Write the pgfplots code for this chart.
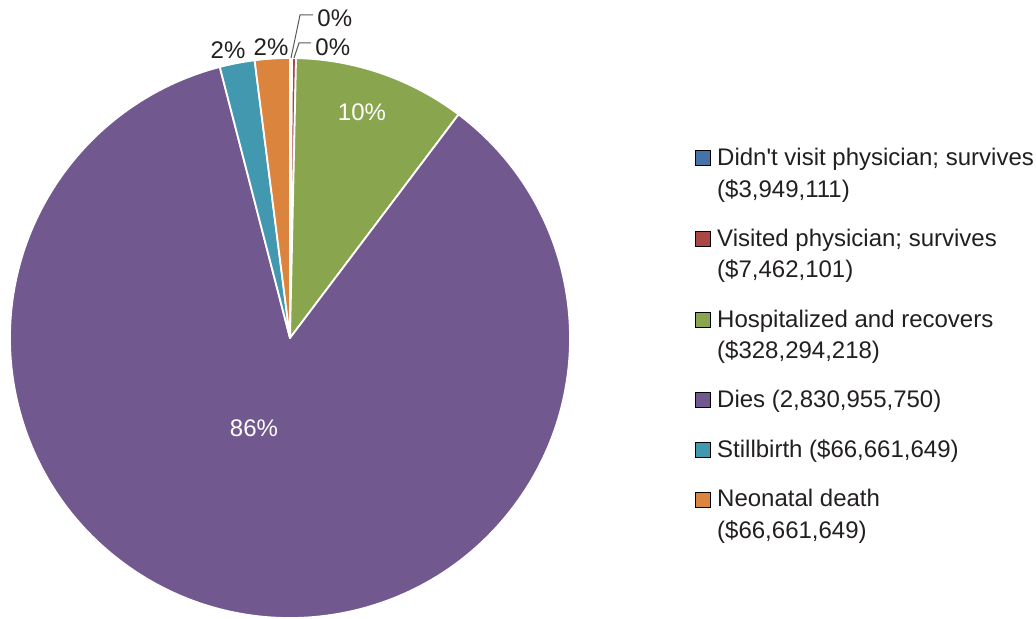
\documentclass[border=0pt]{standalone}
\usepackage{fontspec}
\setmainfont{Liberation Sans}
\usepackage{pgfplots}
\usepackage{pgfplotstable}
\pgfplotsset{compat=1.18}
\definecolor{c0}{HTML}{4572A7}
\definecolor{c1}{HTML}{AA4643}
\definecolor{c2}{HTML}{89A54E}
\definecolor{c3}{HTML}{71588F}
\definecolor{c4}{HTML}{4198AF}
\definecolor{c5}{HTML}{DB843D}
\definecolor{txt}{HTML}{231F20}
% values in millions of dollars
\pgfplotstableread{
slice value
0 3.949111
1 7.462101
2 328.294218
3 2830.95575
4 66.661649
5 66.661649
}\piedata
\gdef\total{0}
\foreach \i in {0,...,5}{%
  \pgfplotstablegetelem{\i}{value}\of\piedata
  \pgfmathsetmacro\t{\total+\pgfplotsretval}%
  \xdef\total{\t}%
}
\gdef\cum{0}
\foreach \i in {0,...,5}{%
  \pgfplotstablegetelem{\i}{value}\of\piedata
  \pgfmathsetmacro\s{90-\cum/\total*360}%
  \pgfmathsetmacro\c{\cum+\pgfplotsretval}%
  \pgfmathsetmacro\e{90-\c/\total*360}%
  \expandafter\xdef\csname sa\i\endcsname{\s}%
  \expandafter\xdef\csname ea\i\endcsname{\e}%
  \xdef\cum{\c}%
}
\newcommand\sA{\rule[-6.75pt]{0pt}{9pt}}
\newcommand\sB{\rule[-16pt]{0pt}{9pt}}
\begin{document}
\begin{tikzpicture}
\begin{axis}[
  width=518pt, height=309pt, scale only axis,
  xmin=0, xmax=1036, ymin=0, ymax=618,
  hide axis, clip=false,
  legend image code/.code={\fill[#1] (0pt,0pt) rectangle (7.5pt,7.5pt);},
  legend style={at={(axis cs:695,470)}, anchor=north west, draw=none, fill=none,
    inner sep=0pt, row sep=0pt, column sep=3pt,
    nodes={inner sep=0pt, text depth=},
    cells={anchor=base west},
    font=\fontsize{12}{14}\selectfont, text=txt},
]
\coordinate (bl) at (axis cs:0,0);
\coordinate (tr) at (axis cs:1036,618);
\pgfplotsinvokeforeach{0,...,5}{%
  \fill[c#1, draw=white, line width=0.9pt, line join=round]
    (axis cs:290,280) -- ([shift={(\csname sa#1\endcsname:140pt)}]axis cs:290,280)
    arc[start angle=\csname sa#1\endcsname, end angle=\csname ea#1\endcsname, radius=140pt] -- cycle;
}
% labels
\node[text=white, font=\fontsize{12}{14}\selectfont] at (axis cs:362,506) {10\%};
\node[text=white, font=\fontsize{12}{14}\selectfont] at (axis cs:254,190) {86\%};
\node[text=txt, font=\fontsize{12}{14}\selectfont] at (axis cs:228,568) {2\%};
\node[text=txt, font=\fontsize{12}{14}\selectfont] at (axis cs:271,571) {2\%};
\draw[black!65, line width=0.5pt] (axis cs:291,560) -- (axis cs:300,603) -- (axis cs:313,603);
\draw[black!65, line width=0.5pt] (axis cs:294,560) -- (axis cs:299,575) -- (axis cs:311,575);
\node[text=txt, anchor=west, inner sep=0pt, font=\fontsize{12}{14}\selectfont] at (axis cs:317,600) {0\%};
\node[text=txt, anchor=west, inner sep=0pt, font=\fontsize{12}{14}\selectfont] at (axis cs:315,571) {0\%};
% legend
\addlegendimage{fill=c0}
\addlegendentry{Didn\textquotesingle t visit physician; survives\sA}
\addlegendimage{empty legend}
\addlegendentry{(\$3,949,111)\sB}
\addlegendimage{fill=c1}
\addlegendentry{Visited physician; survives\sA}
\addlegendimage{empty legend}
\addlegendentry{(\$7,462,101)\sB}
\addlegendimage{fill=c2}
\addlegendentry{Hospitalized and recovers\sA}
\addlegendimage{empty legend}
\addlegendentry{(\$328,294,218)\sB}
\addlegendimage{fill=c3}
\addlegendentry{Dies (2,830,955,750)\sB}
\addlegendimage{fill=c4}
\addlegendentry{Stillbirth (\$66,661,649)\sB}
\addlegendimage{fill=c5}
\addlegendentry{Neonatal death\sA}
\addlegendimage{empty legend}
\addlegendentry{(\$66,661,649)\sB}
\end{axis}
\pgfresetboundingbox
\path (bl) rectangle (tr);
\end{tikzpicture}
\end{document}
